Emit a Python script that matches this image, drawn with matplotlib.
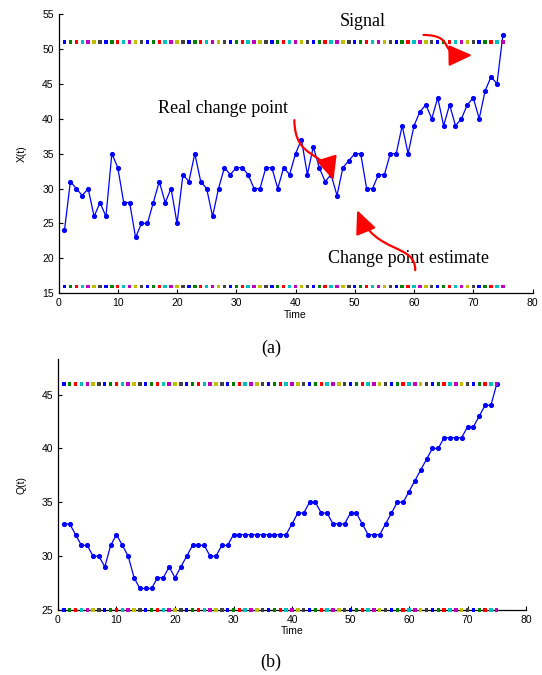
import numpy as np
import matplotlib
matplotlib.use("Agg")
import matplotlib.pyplot as plt
from matplotlib.patches import FancyArrowPatch
from matplotlib.path import Path

# observed signal X(t), t = 1..75
T = np.arange(1, 76)
X = [24, 31, 30, 29, 30, 26, 28, 26, 35, 33,
     28, 28, 23, 25, 25, 28, 31, 28, 30, 25,
     32, 31, 35, 31, 30, 26, 30, 33, 32, 33,
     33, 32, 30, 30, 33, 33, 30, 33, 32, 35,
     37, 32, 36, 33, 31, 32, 29, 33, 34, 35,
     35, 30, 30, 32, 32, 35, 35, 39, 35, 39,
     41, 42, 40, 43, 39, 42, 39, 40, 42, 43,
     40, 44, 46, 45, 52]
# statistic Q(t)
Q = [33, 33, 32, 31, 31, 30, 30, 29, 31, 32,
     31, 30, 28, 27, 27, 27, 28, 28, 29, 28,
     29, 30, 31, 31, 31, 30, 30, 31, 31, 32,
     32, 32, 32, 32, 32, 32, 32, 32, 32, 33,
     34, 34, 35, 35, 34, 34, 33, 33, 33, 34,
     34, 33, 32, 32, 32, 33, 34, 35, 35, 36,
     37, 38, 39, 40, 40, 41, 41, 41, 41, 42,
     42, 43, 44, 44, 46]
X_HI, X_LO = 51, 16          # bounds drawn in panel (a)
Q_HI, Q_LO = 46, 25          # bounds drawn in panel (b)

# matlab colour order b g r c m y k
MCOL = [(0, 0, 1), (0, 0.5, 0), (1, 0, 0), (0, 0.75, 0.75),
        (0.75, 0, 0.75), (0.75, 0.75, 0), (0.25, 0.25, 0.25)]
dot_cols = [MCOL[i % 7] for i in range(len(T))]

plt.rcParams.update({"font.family": "Liberation Sans", "font.size": 7.5,
                     "xtick.direction": "in", "ytick.direction": "in",
                     "xtick.major.size": 3, "ytick.major.size": 3,
                     "axes.linewidth": 0.9})
SERIF = "Liberation Serif"

fig = plt.figure(figsize=(5.42, 6.75), dpi=100)
axA = fig.add_axes([0.108, 0.5655, 0.8745, 0.4138])
axB = fig.add_axes([0.107, 0.0963, 0.8635, 0.3718])


def style(ax):
    for sp in ("top", "right"):
        ax.spines[sp].set_visible(False)
    ax.set_xlim(0, 80)
    ax.set_xticks(range(0, 81, 10))
    ax.set_xlabel("Time", labelpad=1)


def bounds(ax, lo, hi):
    for v in (lo, hi):
        ax.scatter(T, [v] * len(T), c=dot_cols, marker="s", s=6, lw=0,
                   zorder=4, clip_on=False)


def curved_arrow(ax, verts):
    p = Path(verts, [Path.MOVETO, Path.CURVE4, Path.CURVE4, Path.CURVE4])
    a = FancyArrowPatch(path=p, arrowstyle="-|>,head_length=1.1,head_width=0.5",
                        mutation_scale=13, color="red", lw=1.6, zorder=5)
    ax.add_patch(a)


# ---- (a) ----
bounds(axA, X_LO, X_HI)
axA.plot(T, X, "-", color="blue", lw=0.9, marker="o", ms=2.7, zorder=3)
style(axA)
axA.set_ylim(15, 55)
axA.set_yticks(range(15, 56, 5))
axA.set_ylabel("X(t)", labelpad=11)
axA.text(51.4, 53.9, "Signal", family=SERIF, fontsize=13, ha="center", va="center")
axA.text(27.7, 41.5, "Real change point", family=SERIF, fontsize=13,
         ha="center", va="center")
axA.text(59.0, 20.0, "Change point estimate", family=SERIF, fontsize=13,
         ha="center", va="center")
curved_arrow(axA, [(61.6, 52.0), (67.5, 51.9), (63.5, 49.0), (69.8, 49.1)])
curved_arrow(axA, [(39.8, 39.8), (39.9, 34.0), (44.8, 35.6), (46.4, 31.2)])
curved_arrow(axA, [(60.2, 18.3), (60.3, 22.2), (53.5, 20.5), (50.4, 26.9)])

# ---- (b) ----
bounds(axB, Q_LO, Q_HI)
axB.plot(T, Q, "-", color="blue", lw=0.9, marker="o", ms=2.7, zorder=3)
style(axB)
axB.set_ylim(25, 48.3)
axB.set_yticks(range(25, 46, 5))
axB.set_ylabel("Q(t)", labelpad=11)

fig.text(0.5, 0.4844, "(a)", family=SERIF, fontsize=13, ha="center", va="center")
fig.text(0.5, 0.0193, "(b)", family=SERIF, fontsize=13, ha="center", va="center")

fig.savefig("out.png", dpi=100, facecolor="white")
